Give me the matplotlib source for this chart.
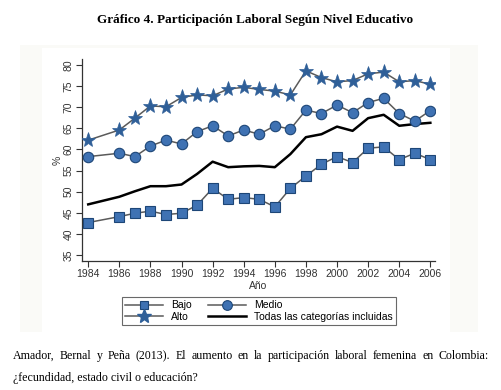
import matplotlib
matplotlib.use("Agg")
import matplotlib.pyplot as plt
from matplotlib.patches import Rectangle
from matplotlib.lines import Line2D

years = [1984, 1986, 1987, 1988, 1989, 1990, 1991, 1992, 1993, 1994, 1995,
         1996, 1997, 1998, 1999, 2000, 2001, 2002, 2003, 2004, 2005, 2006]
baja = [42.7, 44.1, 44.9, 45.4, 44.6, 44.9, 46.8, 50.8, 48.2, 48.6, 48.2,
        46.4, 50.8, 53.7, 56.5, 58.3, 56.9, 60.3, 60.6, 57.6, 59.1, 57.6]
medio = [58.3, 59.1, 58.3, 60.8, 62.2, 61.3, 64.2, 65.6, 63.2, 64.6, 63.6,
         65.6, 64.8, 69.3, 68.5, 70.5, 68.7, 71.1, 72.1, 68.5, 66.7, 69.2]
alto = [62.2, 64.6, 67.4, 70.3, 70.1, 72.3, 72.9, 72.7, 74.3, 74.7, 74.2,
        73.8, 72.9, 78.6, 77.0, 76.0, 76.3, 77.9, 78.3, 76.0, 76.3, 75.4]
todas = [47.0, 48.8, 50.1, 51.3, 51.3, 51.7, 54.2, 57.1, 55.8, 56.0, 56.1,
         55.8, 58.9, 62.9, 63.6, 65.4, 64.4, 67.4, 68.2, 65.6, 66.0, 66.3]
yticks = [35, 40, 45, 50, 55, 60, 65, 70, 75, 80]
xticks = list(range(1984, 2007, 2))
labels = ["Bajo", "Medio", "Alto", "Todas las categorías incluidas"]
title = "Gráfico 4. Participación Laboral Según Nivel Educativo"
caption1 = "Amador, Bernal y Peña (2013). El aumento en la participación laboral femenina en Colombia:"
caption2 = "¿fecundidad, estado civil o educación?"

W, H = 501, 390
fig = plt.figure(figsize=(W / 100, H / 100), dpi=100)
fig.patch.set_facecolor("white")

# faint graph panel
fig.patches.append(Rectangle((20 / W, 1 - 332 / H), 458 / W, 287 / H,
                             transform=fig.transFigure, facecolor="#fafaf7",
                             edgecolor="none", zorder=-2))
fig.patches.append(Rectangle((42 / W, 1 - 332 / H), 408 / W, 284 / H,
                             transform=fig.transFigure, facecolor="#ffffff",
                             edgecolor="none", zorder=-1))

ax = fig.add_axes([82 / W, 1 - 261 / H, (435 - 82) / W, (261 - 59) / H])
ax.set_facecolor("none")
ax.set_zorder(3)

blue = "#3f72b3"
edge = "#1d4677"
gray = "#5a5a5a"
star = "#2f5f98"
sans = "Liberation Sans"

ax.plot(years, baja, color=gray, lw=1.1, marker="s", ms=6.5,
        mfc=blue, mec=edge, mew=0.8, zorder=3)
ax.plot(years, medio, color=gray, lw=1.1, marker="o", ms=7.5,
        mfc=blue, mec=edge, mew=0.8, zorder=3)
ax.plot(years, alto, color=gray, lw=1.1, marker="*", ms=11,
        mfc=star, mec=star, mew=0.5, zorder=3)
ax.plot(years, todas, color="black", lw=1.8, zorder=2)

ax.set_xlim(1983.6, 2006.3)
ax.set_ylim(33.6, 81.4)
ax.set_yticks(yticks)
ax.set_xticks(xticks)
for s in ["top", "right"]:
    ax.spines[s].set_visible(False)
for s in ["left", "bottom"]:
    ax.spines[s].set_color("#333333")
    ax.spines[s].set_linewidth(0.9)
ax.tick_params(direction="out", length=4, width=0.8, colors="#333333",
               labelsize=7.5, pad=2)
for lab in ax.get_yticklabels():
    lab.set_rotation(90)
    lab.set_va("center")
    lab.set_family(sans)
for lab in ax.get_xticklabels():
    lab.set_family(sans)
ax.set_ylabel("%", fontsize=7.5, family=sans, color="#333333", labelpad=1)
ax.set_xlabel("Año", fontsize=7.5, family=sans, color="#333333", labelpad=1)

h_baja = Line2D([], [], color=gray, lw=1.1, marker="s", ms=6, mfc=blue, mec=edge, mew=0.8)
h_medio = Line2D([], [], color=gray, lw=1.1, marker="o", ms=7, mfc=blue, mec=edge, mew=0.8)
h_alto = Line2D([], [], color=gray, lw=1.1, marker="*", ms=10, mfc=star, mec=star)
h_todas = Line2D([], [], color="black", lw=1.8)
leg = fig.legend([h_baja, h_alto, h_medio, h_todas],
                 [labels[0], labels[2], labels[1], labels[3]], ncol=2, loc="center",
                 bbox_to_anchor=(259 / W, 1 - 311 / H),
                 frameon=True, fancybox=False, edgecolor="#444444",
                 prop={"family": sans, "size": 7.5}, handlelength=3.6,
                 columnspacing=1.6, handletextpad=0.8, labelspacing=0.1,
                 borderpad=0.35)
leg.get_frame().set_linewidth(0.8)
leg.set_zorder(4)

fig.text(255 / W, 1 - 20 / H, title, ha="center", va="center",
         family="Liberation Serif", weight="bold", fontsize=9.5)

# justified caption first line
fig.canvas.draw()
r = fig.canvas.get_renderer()
words = caption1.split(" ")
x0, x1 = 13, 489
fs = 8.6
tmp = [fig.text(0, 0, w, family="Liberation Serif", fontsize=fs) for w in words]
widths = [t.get_window_extent(r).width for t in tmp]
for t in tmp:
    t.remove()
gap = (x1 - x0 - sum(widths)) / (len(words) - 1)
x = x0
for w, wd in zip(words, widths):
    fig.text(x / W, 1 - 356 / H, w, family="Liberation Serif", fontsize=fs,
             ha="left", va="center")
    x += wd + gap
fig.text(x0 / W, 1 - 378 / H, caption2, family="Liberation Serif",
         fontsize=fs, ha="left", va="center")

fig.savefig("out.png", dpi=100, facecolor="white")
